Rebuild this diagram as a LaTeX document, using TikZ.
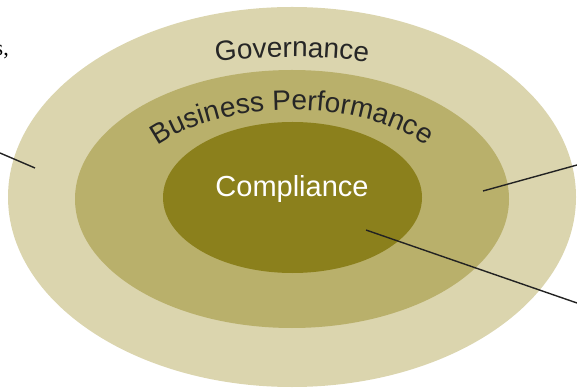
\documentclass[tikz,border=0pt]{standalone}
\usepackage{fontspec}
\setmainfont{Liberation Sans}
\newfontfamily\serifface{Liberation Serif}
\usetikzlibrary{decorations.text}
\definecolor{outerc}{HTML}{DBD5AE}
\definecolor{midc}{HTML}{B9B06B}
\definecolor{innerc}{HTML}{8B801C}
\definecolor{linec}{HTML}{222222}
\newcommand{\bigfont}{\fontsize{28}{32}\selectfont}
\tikzset{
  ring/.style={draw=none},
  leader/.style={draw=linec, line width=1.4pt},
  arclabel/.style={decorate, decoration={text along path, text align=center, text color=black!85}}
}
\begin{document}
\begin{tikzpicture}[x=1pt,y=1pt]
\useasboundingbox (0,0) rectangle (577,388);
\begin{scope}
\clip (0,0) rectangle (577,388);
\fill[outerc] (292,191) ellipse [x radius=284, y radius=190];
\fill[midc] (292,189) ellipse [x radius=217, y radius=129];
\fill[innerc] (292.5,190.5) ellipse [x radius=129.5, y radius=75.5];
\end{scope}
% labels along arcs
\path[arclabel, decoration={text={|\bigfont|Governance}}]
  (292,189) ++(118:293 and 142) arc[start angle=118, end angle=62, x radius=293, y radius=142];
\path[arclabel, decoration={text={|\bigfont|Business Performance}}]
  (292,189) ++(152:168 and 89) arc[start angle=152, end angle=28, x radius=168, y radius=89];
\node[anchor=base, text=white, font=\fontsize{29}{33}\selectfont] (comp) at (292,191) {Compliance};
\node[anchor=base east, inner sep=0pt, font=\serifface\fontsize{22}{26}\selectfont] (frag) at (9,332) {s,};
% leader lines
\coordinate (l1a) at (0,235);
\coordinate (l1b) at (35,220);
\coordinate (l2a) at (483,197);
\coordinate (l2b) at (577,223);
\coordinate (l3a) at (366,158);
\coordinate (l3b) at (577,85);
\draw[leader] (l1a) -- (l1b);
\draw[leader] (l2a) -- (l2b);
\draw[leader] (l3a) -- (l3b);
\end{tikzpicture}
\end{document}
